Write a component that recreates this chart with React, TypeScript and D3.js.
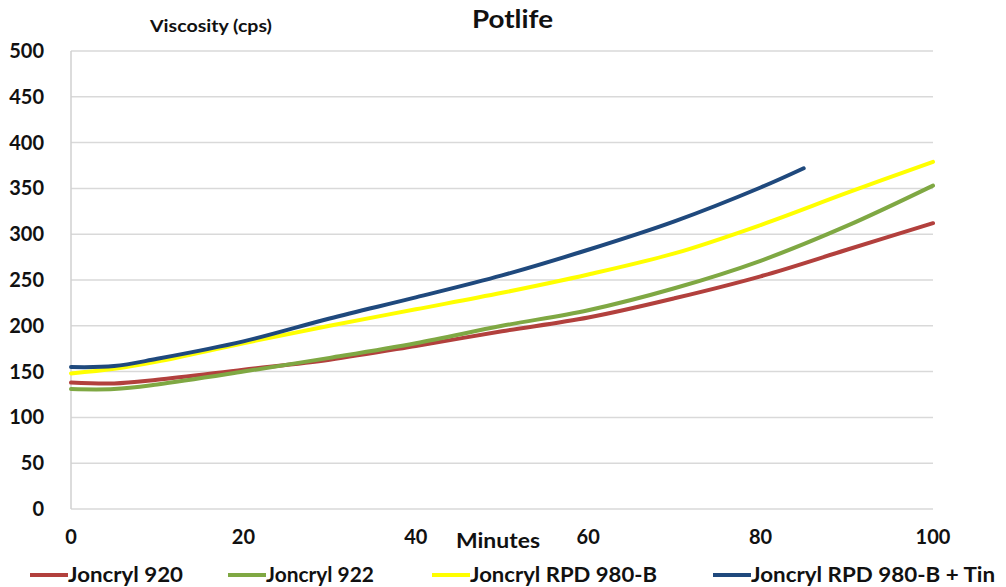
import React from "react";
import * as d3 from "d3";

const minutes = [0, 5, 10, 20, 30, 40, 50, 60, 70, 80, 90, 100];
const joncryl920 = [138, 137, 141, 152, 163, 178, 194, 209, 230, 254, 283, 312];
const joncryl922 = [131, 131, 136, 150, 165, 181, 200, 217, 241, 271, 309, 353];
const rpd980B = [148, 153, 161, 181, 200, 218, 236, 256, 279, 310, 345, 379];
const tinMinutes = [0, 5, 10, 20, 30, 40, 50, 60, 70, 80, 85];
const rpd980BTin = [155, 156, 164, 183, 208, 231, 255, 283, 314, 351, 372];

const xTicks = [0, 20, 40, 60, 80, 100];
const yTicks = [0, 50, 100, 150, 200, 250, 300, 350, 400, 450, 500];

const seriesNames = ["Joncryl 920", "Joncryl 922", "Joncryl RPD 980-B", "Joncryl RPD 980-B + Tin"];
const seriesColors = ["#B2403D", "#7FA843", "#FFFF00", "#1F497D"];

const W = 1006;
const H = 587;
const FONT = "Lato, 'Open Sans', sans-serif";

export default function App() {
  const x = d3.scaleLinear().domain([0, 100]).range([71, 933]);
  const y = d3.scaleLinear().domain([0, 500]).range([509, 51]);

  const series = [
    { xs: minutes, ys: joncryl920 },
    { xs: minutes, ys: joncryl922 },
    { xs: minutes, ys: rpd980B },
    { xs: tinMinutes, ys: rpd980BTin },
  ];

  const line = d3
    .line<[number, number]>()
    .x((d) => x(d[0]))
    .y((d) => y(d[1]))
    .curve(d3.curveCatmullRom.alpha(0.5));

  const legendX = [30, 228, 432, 713];
  const legendTextLen = [115, 108, 187, 244];

  return (
    <svg
      width={W}
      height={H}
      style={{ position: "absolute", left: 0, top: 0, background: "#fff" }}
      fontFamily={FONT}
    >
      <rect x={0} y={0} width={W} height={H} fill="#fff" />
      {yTicks.map((t) => (
        <line key={"g" + t} x1={x(0)} x2={x(100)} y1={y(t)} y2={y(t)} stroke="#D9D9D9" strokeWidth={1.5} />
      ))}
      <line x1={x(0)} x2={x(0)} y1={y(0)} y2={y(500)} stroke="#D0D0D0" strokeWidth={1.5} />
      {yTicks.map((t) => (
        <text key={"yt" + t} x={44} y={y(t)} dy="0.35em" textAnchor="end" fontSize={20} fontWeight="bold" fill="#111">
          {t}
        </text>
      ))}
      {xTicks.map((t) => (
        <text key={"xt" + t} x={x(t)} y={537} dy="0.35em" textAnchor="middle" fontSize={20} fontWeight="bold" fill="#111">
          {t}
        </text>
      ))}
      <text x={456} y={541} dy="0.35em" fontSize={20} fontWeight="bold" fill="#111" textLength={84} lengthAdjust="spacingAndGlyphs">
        Minutes
      </text>
      <text x={472} y={20} dy="0.35em" fontSize={24} fontWeight="bold" fill="#111" textLength={81} lengthAdjust="spacingAndGlyphs">
        Potlife
      </text>
      <text x={150} y={26} dy="0.35em" fontSize={17} fontWeight="bold" fill="#111" textLength={122} lengthAdjust="spacingAndGlyphs">
        Viscosity (cps)
      </text>
      {series.map((s, i) => (
        <path
          key={"s" + i}
          d={line(s.xs.map((m, j) => [m, s.ys[j]] as [number, number])) || ""}
          fill="none"
          stroke={seriesColors[i]}
          strokeWidth={4}
          strokeLinecap="round"
        />
      ))}
      {seriesNames.map((n, i) => (
        <g key={"l" + i}>
          <line x1={legendX[i]} x2={legendX[i] + 38} y1={575} y2={575} stroke={seriesColors[i]} strokeWidth={4} />
          <text
            x={legendX[i] + 38}
            y={575}
            dy="0.35em"
            fontSize={20}
            fontWeight="bold"
            fill="#111"
            textLength={legendTextLen[i]}
            lengthAdjust="spacingAndGlyphs"
          >
            {n}
          </text>
        </g>
      ))}
    </svg>
  );
}
